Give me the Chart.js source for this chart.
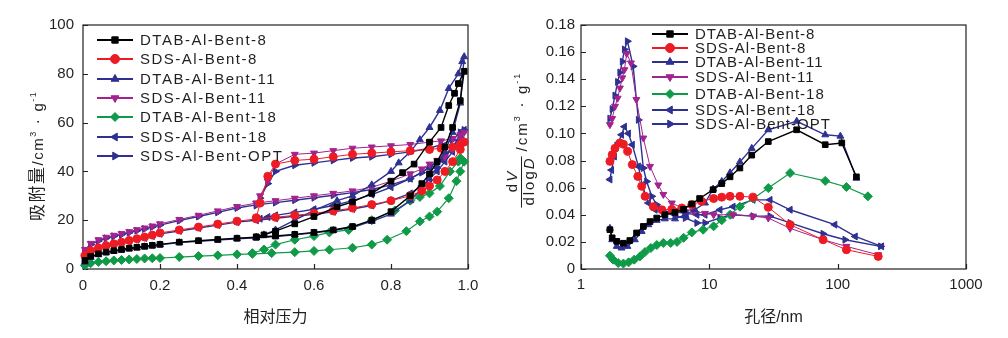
<!DOCTYPE html>
<html>
<head>
<meta charset="utf-8">
<script src="https://cdn.jsdelivr.net/npm/chart.js@4.4.1/dist/chart.umd.min.js"></script>
<style>
  body { margin: 0; background: #fff; width: 1008px; height: 338px; overflow: hidden; position: relative; }
  canvas { position: absolute; top: 0; }
  #iso { left: 0; }
  #psd { left: 500px; }
</style>
</head>
<body>
<canvas id="iso" width="500" height="338"></canvas>
<canvas id="psd" width="508" height="338"></canvas>
<script>
// sample names
var names = ['DTAB-Al-Bent-8', 'SDS-Al-Bent-8', 'DTAB-Al-Bent-11', 'SDS-Al-Bent-11', 'DTAB-Al-Bent-18', 'SDS-Al-Bent-18', 'SDS-Al-Bent-OPT'];

// isotherms : relative pressure / adsorbed volume (adsorption, then desorption)
var adsP = [0.005,0.02,0.04,0.06,0.08,0.1,0.12,0.14,0.16,0.18,0.2,0.25,0.3,0.35,0.4,0.45,0.5,0.55,0.6,0.65,0.7,0.75,0.8,0.85,0.88,0.9,0.92,0.94,0.96,0.98,0.99];
var sdsDesP = [0.98,0.96,0.93,0.9,0.85,0.8,0.75,0.7,0.65,0.6,0.55,0.5,0.48,0.46,0.45];

var dtab8Ads = [3.5,5.2,6.2,6.9,7.5,8.0,8.5,8.9,9.3,9.7,10.1,11.0,11.6,12.1,12.6,13.0,13.5,14.2,15.0,16.0,17.4,20,23.5,30,35,39,44,50,58,69,81];
var dtab8DesP = [0.975,0.965,0.95,0.93,0.9,0.86,0.83,0.8,0.75,0.7,0.66,0.6,0.55,0.5,0.47,0.45];
var dtab8Des = [76,72,67,58,52,43,39.5,36,31,27.5,25.5,21.5,18.5,15.5,14,13.2];

var dtab11Ads = [2.8,4.8,5.9,6.7,7.3,7.8,8.3,8.7,9.1,9.5,9.9,10.8,11.4,11.9,12.4,12.8,13.3,14.0,14.8,15.8,17.2,19.5,22.5,28,33,37,42,48,56,68,87];
var dtab11DesP = [0.985,0.975,0.95,0.927,0.9,0.875,0.85,0.82,0.8,0.75,0.7,0.66,0.6,0.55,0.5,0.47,0.45];
var dtab11Des = [85,80,74,65,58,53,48,43.5,40,34.5,30,28,24,20,16,14,13];

var sds8Ads = [5.5,7.5,8.7,9.6,10.3,11,11.7,12.4,13.1,13.9,14.8,16.0,17.2,18.4,19.6,20.5,21.2,22.0,22.8,23.8,25.0,26.4,28.0,30.0,32,34,36.5,40,44,49,52];
var sds8Des = [51,50,49.5,49,48.5,48,47.5,47,46,45,44.5,43,38,27,21];

var sds11Ads = [8,10.5,12,13,13.8,14.5,15.3,16.1,16.8,17.6,18.5,20.3,22,23.8,25.6,27,28,29,30,31,32,33.5,36,39,41,43,44.5,46,49,53,56];
var sds11Des = [55,53.5,52.5,52,51,50.5,50,49.5,48.5,47.5,47,43,36,30,27];

var sds18Ads = [5,7,8.3,9.2,9.9,10.6,11.3,12,12.7,13.5,14.4,15.6,16.8,18,19.2,20,20.8,21.6,22.4,23.4,24.6,26,28,31,34,37,40,44,48,53,57];
var sds18Des = [55,50,45,41.5,37,33.5,30.5,28,26,24.5,23.2,22,21.3,20.6,20.2];

var optAds = [7.5,10,11.5,12.6,13.4,14.1,14.9,15.7,16.4,17.2,18,19.8,21.5,23.2,25,26.3,27.2,28.2,29.2,30.2,31.3,32.6,34.5,37,39.5,42,44,46,50,54,57];
var optDes = [56,53,51,49.5,48,47,46,45.5,44.5,43.5,42.5,40,35,29,26];

var dtab18AdsP = [0.005,0.02,0.04,0.06,0.08,0.1,0.12,0.14,0.16,0.18,0.2,0.25,0.3,0.35,0.4,0.44,0.49,0.55,0.6,0.64,0.7,0.75,0.79,0.84,0.875,0.9,0.92,0.95,0.97,0.98,0.99];
var dtab18Ads = [1.5,2.4,2.9,3.2,3.5,3.7,3.9,4.1,4.3,4.4,4.5,4.9,5.3,5.6,6.0,6.2,6.5,6.9,7.4,7.9,8.7,10,12,15.5,19.5,21.5,23.5,29,36,40,44];
var dtab18DesP = [0.98,0.975,0.953,0.927,0.9,0.875,0.85,0.81,0.75,0.69,0.64,0.6,0.55,0.5,0.47,0.44];
var dtab18Des = [45.5,44,40,34,31,29.5,28,24,20,16,15,13.5,12,10,8,6.5];

// pore size distribution : diameter (nm) / dV/dlogD
var dtab8D = [1.68,1.75,1.9,2.14,2.4,2.71,3.06,3.45,3.89,4.51,5.4,6.3,7.3,8.4,10.7,12.5,14.5,17.3,21.4,28.8,47.9,80,107.7,140];
var dtab8V = [0.029,0.023,0.0204,0.019,0.021,0.0266,0.0314,0.035,0.0376,0.040,0.0418,0.044,0.048,0.052,0.0585,0.063,0.068,0.0745,0.084,0.094,0.1027,0.0917,0.093,0.068];
var sds8D = [1.68,1.75,1.84,2.01,2.14,2.31,2.51,2.77,2.97,3.16,3.66,4.27,5.1,6.1,7.3,8.7,10.8,12.5,14.5,17.3,21.9,28.8,42.6,77,117,207];
var sds8V = [0.0794,0.0843,0.089,0.093,0.092,0.0868,0.077,0.0683,0.061,0.0536,0.046,0.0437,0.044,0.045,0.0474,0.050,0.052,0.053,0.0536,0.0536,0.053,0.0455,0.0327,0.0216,0.0142,0.0093];
var dtab11D = [1.68,1.75,1.9,2.07,2.3,2.63,2.97,3.35,3.89,4.5,5.4,6.46,7.7,9.25,10.7,12.5,14.5,17.3,21.4,28.8,48,80,105,140];
var dtab11V = [0.030,0.0216,0.0167,0.0155,0.0167,0.0216,0.0277,0.0327,0.0359,0.037,0.037,0.040,0.0437,0.0487,0.059,0.0646,0.071,0.079,0.089,0.1027,0.109,0.099,0.098,0.067];
var sds11D = [1.68,1.75,1.84,1.93,2.01,2.1,2.18,2.27,2.45,2.7,3.06,3.45,4.0,4.38,5.1,6.1,7.5,9.25,10.8,15.3,21.9,28.8,42.6,77,117,207];
var sds11V = [0.1065,0.111,0.12,0.126,0.1335,0.141,0.147,0.159,0.152,0.125,0.0966,0.0757,0.062,0.055,0.0487,0.045,0.0425,0.041,0.040,0.040,0.039,0.0376,0.030,0.0216,0.0167,0.0105];
var dtab18D = [1.68,1.78,1.95,2.14,2.35,2.6,2.88,3.15,3.5,3.9,4.38,5.0,5.6,6.3,7.3,8.95,10.8,12.5,14.5,17.3,22,28.8,42.6,80,117,172];
var dtab18V = [0.0098,0.0069,0.0044,0.004,0.0049,0.0069,0.0093,0.0125,0.0155,0.0177,0.0192,0.0192,0.020,0.023,0.027,0.029,0.0315,0.036,0.040,0.046,0.052,0.0597,0.0708,0.065,0.0605,0.0536];
var sds18D = [1.68,1.73,1.82,1.95,2.07,2.18,2.34,2.51,2.8,3.0,3.35,3.78,4.38,5.4,6.6,8,9.25,12.1,15.3,21.9,29.7,42.6,95,137,220];
var sds18V = [0.066,0.073,0.083,0.093,0.099,0.105,0.100,0.0917,0.0757,0.062,0.0487,0.0437,0.042,0.042,0.041,0.040,0.040,0.0437,0.046,0.051,0.051,0.0437,0.0327,0.024,0.0167];
var optD = [1.68,1.75,1.84,1.93,2.01,2.1,2.18,2.3,2.55,2.8,3.06,3.25,3.56,3.89,4.38,5.4,6.5,8,9.25,12.1,15.3,21.9,29.7,42.6,77,114,216];
var optV = [0.111,0.118,0.128,0.138,0.145,0.153,0.162,0.168,0.1495,0.11,0.0745,0.0646,0.0536,0.0474,0.0425,0.0389,0.0376,0.034,0.034,0.0376,0.040,0.039,0.039,0.034,0.026,0.0216,0.0167];

var xTicksIso = [0, 0.2, 0.4, 0.6, 0.8, 1.0];
var yTicksIso = [0, 20, 40, 60, 80, 100];
var xTicksPsd = [1, 10, 100, 1000];
var yTicksPsd = [0, 0.02, 0.04, 0.06, 0.08, 0.10, 0.12, 0.14, 0.16, 0.18];

var FONT = "'Liberation Sans', 'Noto Sans CJK SC', sans-serif";
var INK = '#231f20';
Chart.defaults.font.family = FONT;
Chart.defaults.color = INK;

// marker look for each sample, same order as names
var looks = [
  { c: '#000000', s: 'rect',     r: 0,   w: 1.4 },
  { c: '#ed1c24', s: 'circle',   r: 0,   w: 1.0 },
  { c: '#2e3192', s: 'triangle', r: 0,   w: 1.4 },
  { c: '#a3238e', s: 'triangle', r: 180, w: 1.0 },
  { c: '#0f9a48', s: 'rectRot',  r: 0,   w: 1.2 },
  { c: '#2e3192', s: 'triangle', r: 270, w: 1.4 },
  { c: '#2e3192', s: 'triangle', r: 90,  w: 1.4 }
];

function pts(xs, ys) {
  return xs.map(function (x, i) { return { x: x, y: ys[i] }; });
}

function makeSets(series) {
  return series.map(function (d, i) {
    var lk = looks[i];
    return {
      label: names[i],
      data: d,
      showLine: true,
      clip: false,
      borderColor: lk.c,
      backgroundColor: lk.c,
      pointBorderColor: lk.c,
      pointBackgroundColor: lk.c,
      borderWidth: lk.w,
      pointBorderWidth: 1,
      pointStyle: lk.s,
      rotation: lk.r,
      pointRadius: lk.s === 'rectRot' ? 4.5 : 4,
      tension: 0
    };
  });
}

var isoSeries = [
  pts(adsP.concat(dtab8DesP), dtab8Ads.concat(dtab8Des)),
  pts(adsP.concat(sdsDesP), sds8Ads.concat(sds8Des)),
  pts(adsP.concat(dtab11DesP), dtab11Ads.concat(dtab11Des)),
  pts(adsP.concat(sdsDesP), sds11Ads.concat(sds11Des)),
  pts(dtab18AdsP.concat(dtab18DesP), dtab18Ads.concat(dtab18Des)),
  pts(adsP.concat(sdsDesP), sds18Ads.concat(sds18Des)),
  pts(adsP.concat(sdsDesP), optAds.concat(optDes))
];

var psdSeries = [
  pts(dtab8D, dtab8V), pts(sds8D, sds8V), pts(dtab11D, dtab11V), pts(sds11D, sds11V),
  pts(dtab18D, dtab18V), pts(sds18D, sds18V), pts(optD, optV)
];

// frame round the plot and short inward ticks
var frame = {
  id: 'frame',
  beforeDatasetsDraw: function (chart) {
    var ctx = chart.ctx, a = chart.chartArea, sx = chart.scales.x, sy = chart.scales.y;
    ctx.save();
    ctx.strokeStyle = INK;
    ctx.lineWidth = 1.2;
    ctx.strokeRect(a.left, a.top, a.right - a.left, a.bottom - a.top);
    ctx.beginPath();
    sx.ticks.forEach(function (t) {
      var px = Math.round(sx.getPixelForValue(t.value)) + 0.5;
      ctx.moveTo(px, a.bottom); ctx.lineTo(px, a.bottom - 5);
    });
    sy.ticks.forEach(function (t) {
      var py = Math.round(sy.getPixelForValue(t.value)) + 0.5;
      ctx.moveTo(a.left, py); ctx.lineTo(a.left + 5, py);
    });
    ctx.stroke();
    ctx.restore();
  }
};

// legend box drawn inside the plot
var keyBox = {
  id: 'keyBox',
  afterDraw: function (chart, args, o) {
    var ctx = chart.ctx;
    ctx.save();
    ctx.font = '15px ' + FONT;
    ctx.letterSpacing = o.spacing;
    ctx.textBaseline = 'middle';
    ctx.textAlign = 'left';
    chart.data.datasets.forEach(function (ds, i) {
      var y = o.rows[i];
      ctx.strokeStyle = ds.borderColor;
      ctx.fillStyle = ds.backgroundColor;
      ctx.lineWidth = ds.borderWidth + 0.8;
      ctx.beginPath(); ctx.moveTo(o.x0, y); ctx.lineTo(o.x1, y); ctx.stroke();
      ctx.lineWidth = 1;
      Chart.helpers.drawPoint(ctx, { pointStyle: ds.pointStyle, rotation: ds.rotation, radius: 4.5, borderWidth: 1 }, (o.x0 + o.x1) / 2, y);
      ctx.fillStyle = INK;
      ctx.fillText(ds.label, o.tx, y + 1);
    });
    ctx.restore();
  }
};

// rotated y title built from runs of text
function drawRuns(ctx, runs, x0, base) {
  var x = x0;
  runs.forEach(function (r) {
    ctx.font = (r.it ? 'italic ' : '') + r.f + 'px ' + FONT;
    ctx.fillText(r.t, x, base + (r.dy || 0));
    x += ctx.measureText(r.t).width;
  });
  return x;
}
function runsWidth(ctx, runs) {
  var w = 0;
  runs.forEach(function (r) {
    ctx.font = (r.it ? 'italic ' : '') + r.f + 'px ' + FONT;
    w += ctx.measureText(r.t).width;
  });
  return w;
}

var isoTitle = {
  id: 'isoTitle',
  afterDraw: function (chart) {
    var ctx = chart.ctx;
    ctx.save();
    ctx.fillStyle = INK;
    ctx.translate(37, 221);
    ctx.rotate(-Math.PI / 2);
    ctx.letterSpacing = '1.5px';
    ctx.textBaseline = 'alphabetic';
    drawRuns(ctx, [
      { t: '吸附量', f: 17 }, { t: '/cm', f: 15 }, { t: '3', f: 9, dy: -7 },
      { t: ' · ', f: 16 }, { t: 'g', f: 15 }, { t: '-1', f: 9, dy: -7 }
    ], 0, 6);
    ctx.restore();
  }
};

var psdTitle = {
  id: 'psdTitle',
  afterDraw: function (chart) {
    var ctx = chart.ctx;
    ctx.save();
    ctx.fillStyle = INK; ctx.strokeStyle = INK;
    ctx.translate(21, 182);
    ctx.rotate(-Math.PI / 2);
    ctx.letterSpacing = '2px';
    ctx.textBaseline = 'alphabetic';
    var num = [{ t: 'd', f: 15 }, { t: 'V', f: 15, it: true }];
    var den = [{ t: 'dlog', f: 15 }, { t: 'D', f: 15, it: true }];
    var wn = runsWidth(ctx, num), wd = runsWidth(ctx, den);
    drawRuns(ctx, num, -wn / 2 + 1, -4);
    drawRuns(ctx, den, -wd / 2 + 1, 13);
    ctx.lineWidth = 1;
    ctx.beginPath(); ctx.moveTo(-wd / 2 - 1, 0.5); ctx.lineTo(wd / 2 + 1, 0.5); ctx.stroke();
    drawRuns(ctx, [
      { t: '/cm', f: 15 }, { t: '3', f: 9, dy: -7 }, { t: ' · ', f: 16 },
      { t: 'g', f: 15 }, { t: '-1', f: 9, dy: -7 }
    ], wd / 2 + 6, 6);
    ctx.restore();
  }
};

var tickFont = { size: 15 };

var iso = new Chart(document.getElementById('iso'), {
  type: 'scatter',
  data: { datasets: makeSets(isoSeries) },
  options: {
    responsive: false,
    animation: false,
    layout: { padding: { top: 25, right: 32, left: 0, bottom: 0 } },
    plugins: {
      legend: { display: false },
      tooltip: { enabled: false },
      keyBox: { x0: 97, x1: 133, tx: 140, spacing: '1.5px', rows: [40, 59, 79, 98, 117, 137, 156] }
    },
    scales: {
      x: {
        type: 'linear', min: 0, max: 1,
        afterFit: function (s) { s.height = 69; },
        afterBuildTicks: function (s) { s.ticks = xTicksIso.map(function (v) { return { value: v }; }); },
        grid: { display: false, drawTicks: false },
        border: { display: false },
        ticks: { font: tickFont, padding: 8, maxRotation: 0, callback: function (v) { return v === 0 ? '0' : v.toFixed(1); } },
        title: { display: true, text: '相对压力', font: { size: 16 }, padding: { bottom: 11 } }
      },
      y: {
        type: 'linear', min: 0, max: 100,
        afterFit: function (s) { s.width = 83; },
        afterBuildTicks: function (s) { s.ticks = yTicksIso.map(function (v) { return { value: v }; }); },
        grid: { display: false, drawTicks: false },
        border: { display: false },
        ticks: { font: tickFont, padding: 9 }
      }
    }
  },
  plugins: [frame, keyBox, isoTitle]
});

var psd = new Chart(document.getElementById('psd'), {
  type: 'scatter',
  data: { datasets: makeSets(psdSeries) },
  options: {
    responsive: false,
    animation: false,
    layout: { padding: { top: 25, right: 42, left: 0, bottom: 0 } },
    plugins: {
      legend: { display: false },
      tooltip: { enabled: false },
      keyBox: { x0: 152, x1: 188, tx: 195, spacing: '1px', rows: [34, 48, 62, 77, 94, 110, 124] }
    },
    scales: {
      x: {
        type: 'logarithmic', min: 1, max: 1000,
        afterFit: function (s) { s.height = 69; },
        afterBuildTicks: function (s) { s.ticks = xTicksPsd.map(function (v) { return { value: v }; }); },
        grid: { display: false, drawTicks: false },
        border: { display: false },
        ticks: { font: tickFont, padding: 7, maxRotation: 0, callback: function (v) { return String(v); } },
        title: { display: true, text: '孔径/nm', font: { size: 16 }, padding: { bottom: 11 } }
      },
      y: {
        type: 'linear', min: 0, max: 0.18,
        afterFit: function (s) { s.width = 81; },
        afterBuildTicks: function (s) { s.ticks = yTicksPsd.map(function (v) { return { value: v }; }); },
        grid: { display: false, drawTicks: false },
        border: { display: false },
        ticks: { font: tickFont, padding: 6, callback: function (v) { return v === 0 ? '0' : v.toFixed(2); } }
      }
    }
  },
  plugins: [frame, keyBox, psdTitle]
});
</script>
</body>
</html>
